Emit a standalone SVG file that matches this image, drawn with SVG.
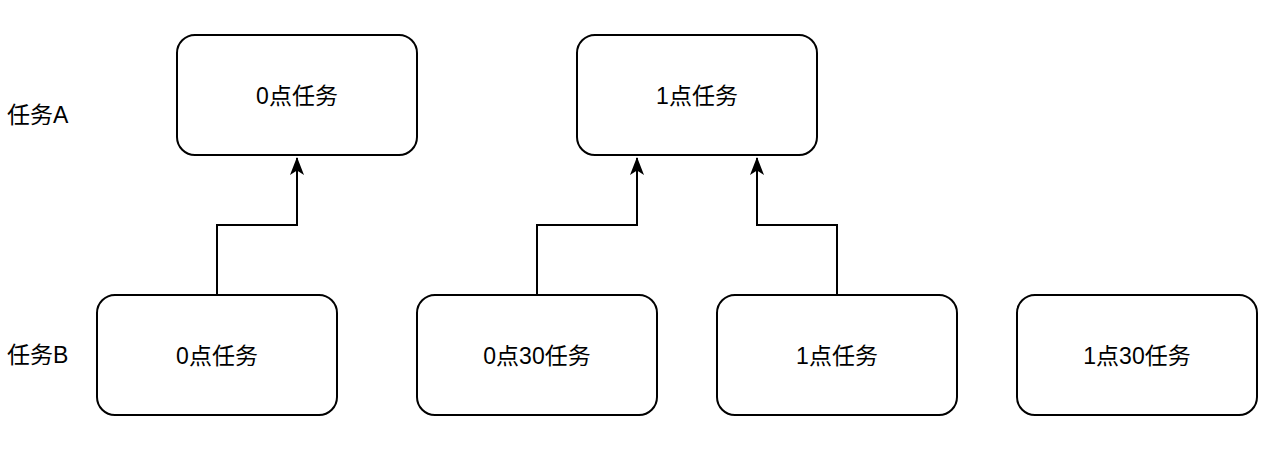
<svg xmlns="http://www.w3.org/2000/svg" width="1286" height="464" viewBox="0 0 1286 464">
<style>
.box{fill:#fff;stroke:#000;stroke-width:2}
.t{font-family:"Liberation Sans","Noto Sans CJK SC",sans-serif;font-size:23px;fill:#000}
.c{text-anchor:middle;dominant-baseline:central}
.edge{fill:none;stroke:#000;stroke-width:2}
</style>
<defs>
<marker id="arr" viewBox="0 0 18 14" refX="17" refY="7" markerWidth="18" markerHeight="14" markerUnits="userSpaceOnUse" orient="auto">
<path d="M0,0 L18,7 L0,14 L4.5,7 Z" fill="#000"/>
</marker>
</defs>
<rect width="1286" height="464" fill="#fff"/>
<g id="labelA"><text class="t" x="7" y="123">任务A</text></g>
<g id="labelB"><text class="t" x="7" y="363">任务B</text></g>
<g id="a0"><rect class="box" x="177" y="35" width="240" height="120" rx="18"/><text class="t c" x="297" y="96">0点任务</text></g>
<g id="a1"><rect class="box" x="577" y="35" width="240" height="120" rx="18"/><text class="t c" x="697" y="96">1点任务</text></g>
<g id="b0"><rect class="box" x="97" y="295" width="240" height="120" rx="18"/><text class="t c" x="217" y="356">0点任务</text></g>
<g id="b030"><rect class="box" x="417" y="295" width="240" height="120" rx="18"/><text class="t c" x="537" y="356">0点30任务</text></g>
<g id="b1"><rect class="box" x="717" y="295" width="240" height="120" rx="18"/><text class="t c" x="837" y="356">1点任务</text></g>
<g id="b130"><rect class="box" x="1017" y="295" width="240" height="120" rx="18"/><text class="t c" x="1137" y="356">1点30任务</text></g>
<g id="connectors">
<path class="edge" d="M217,295 V225 H297 V158" marker-end="url(#arr)"/>
<path class="edge" d="M537,295 V225 H637 V158" marker-end="url(#arr)"/>
<path class="edge" d="M837,295 V225 H757 V158" marker-end="url(#arr)"/>
</g>
</svg>
